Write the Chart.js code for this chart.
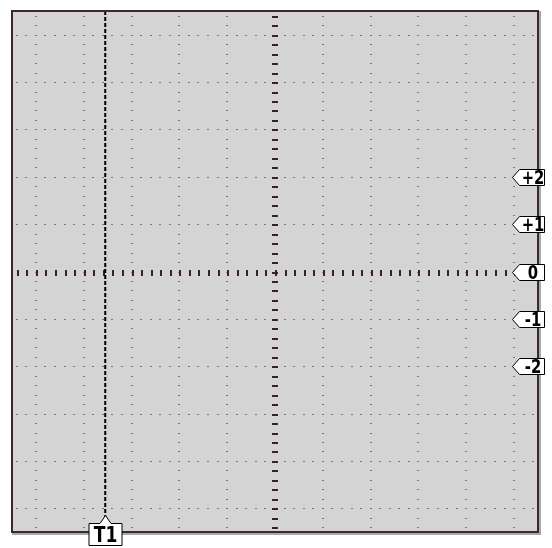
<!DOCTYPE html>
<html><head><meta charset="utf-8">
<script src="https://cdn.jsdelivr.net/npm/chart.js@4"></script>
<style>html,body{margin:0;padding:0;background:#fff;overflow:hidden}</style>
</head><body>
<canvas id="c" width="552" height="548"></canvas>
<script>
// graticule: 11 x 11 divisions, minor subdivision 0.2 div
const xRange = [-5.5, 5.5];
const yRange = [-5.5, 5.5];
const majorX = [-5, -4, -3, -2, -1, 0, 1, 2, 3, 4, 5];
const majorY = [-5, -4, -3, -2, -1, 0, 1, 2, 3, 4, 5];
const minorStep = 0.2;
// channel level markers on the right edge
const levelLabels = ['+2', '+1', '0', '-1', '-2'];
const levelValues = [2, 1, 0, -1, -2];
// time cursor
const cursorLabels = ['T1'];
const cursorValues = [-3.55];
const cursorSpan = [5.5, -5.2];

const minorVals = [];
for (let i = -27; i <= 27; i++) minorVals.push(i * minorStep);

const scopePlugin = {
  id: 'scope',
  beforeDatasetsDraw(chart) {
    const {ctx, chartArea: a, scales: {x, y}} = chart;
    ctx.save();
    ctx.fillStyle = '#d4d4d4';
    ctx.fillRect(a.left, a.top, a.right - a.left, a.bottom - a.top);
    // dotted graticule
    ctx.fillStyle = '#8a7676';
    majorX.forEach(v => {
      if (v === 0) return;
      const px = Math.round(x.getPixelForValue(v));
      minorVals.forEach(m => {
        const py = Math.round(y.getPixelForValue(m));
        ctx.fillRect(px - 1, py, 2, 1);
      });
    });
    majorY.forEach(v => {
      if (v === 0) return;
      const py = Math.round(y.getPixelForValue(v));
      minorVals.forEach(m => {
        const px = Math.round(x.getPixelForValue(m));
        ctx.fillRect(px - 1, py, 2, 1);
      });
    });
    // center axes with ticks
    ctx.fillStyle = '#3a2222';
    const cx = Math.round(x.getPixelForValue(0));
    const cy = Math.round(y.getPixelForValue(0));
    minorVals.forEach(m => {
      const py = Math.round(y.getPixelForValue(m));
      ctx.fillRect(cx - 3, py, 6, 2);
      const px = Math.round(x.getPixelForValue(m));
      ctx.fillRect(px, cy - 2, 2, 6);
    });
    ctx.restore();
  },
  afterDraw(chart) {
    const {ctx, chartArea: a, scales: {x, y}} = chart;
    ctx.save();
    // frame
    ctx.strokeStyle = '#a9a9a9';
    ctx.lineWidth = 2;
    ctx.beginPath();
    ctx.moveTo(a.right + 2, a.top);
    ctx.lineTo(a.right + 2, a.bottom + 2);
    ctx.lineTo(a.left, a.bottom + 2);
    ctx.stroke();
    ctx.strokeStyle = '#402828';
    ctx.strokeRect(a.left, a.top, a.right - a.left, a.bottom - a.top);

    ctx.lineWidth = 1;
    ctx.textAlign = 'center';
    ctx.textBaseline = 'middle';
    // level markers
    levelValues.forEach((v, i) => {
      const py = Math.round(y.getPixelForValue(v)) + 0.5;
      const tip = a.right - 25.5, bx = a.right - 18.5, br = a.right + 6.5;
      ctx.beginPath();
      ctx.moveTo(tip, py);
      ctx.lineTo(bx, py - 8);
      ctx.lineTo(br, py - 8);
      ctx.lineTo(br, py + 8);
      ctx.lineTo(bx, py + 8);
      ctx.closePath();
      ctx.fillStyle = '#fff';
      ctx.fill();
      ctx.strokeStyle = '#000';
      ctx.stroke();
      ctx.save();
      ctx.translate((bx + br) / 2 + 1, py + 1);
      ctx.scale(0.74, 1);
      ctx.fillStyle = '#000';
      ctx.font = 'bold 20px "DejaVu Sans"';
      ctx.fillText(levelLabels[i], 0, 0);
      ctx.restore();
    });
    // cursor labels
    cursorValues.forEach((v, i) => {
      const px = Math.round(x.getPixelForValue(v)) + 0.5;
      const top = a.bottom - 8.5, bot = a.bottom + 13.5;
      ctx.beginPath();
      ctx.moveTo(px - 16.5, top);
      ctx.lineTo(px - 5.5, top);
      ctx.lineTo(px, top - 8);
      ctx.lineTo(px + 5.5, top);
      ctx.lineTo(px + 16.5, top);
      ctx.lineTo(px + 16.5, bot);
      ctx.lineTo(px - 16.5, bot);
      ctx.closePath();
      ctx.fillStyle = '#fff';
      ctx.fill();
      ctx.strokeStyle = '#000';
      ctx.stroke();
      ctx.save();
      ctx.translate(px, (top + bot) / 2 + 1.5);
      ctx.scale(0.78, 1);
      ctx.fillStyle = '#000';
      ctx.font = 'bold 22px "DejaVu Sans"';
      ctx.fillText(cursorLabels[i], 0, 0);
      ctx.restore();
    });
    ctx.restore();
  }
};

new Chart(document.getElementById('c'), {
  type: 'scatter',
  data: {
    datasets: cursorValues.map((v, i) => ({
      label: cursorLabels[i],
      data: [{x: v, y: cursorSpan[0]}, {x: v, y: cursorSpan[1]}],
      showLine: true,
      borderColor: '#000',
      borderWidth: 2,
      borderDash: [4, 2],
      pointRadius: 0
    }))
  },
  options: {
    responsive: false,
    animation: false,
    layout: {padding: {left: 12, top: 11, right: 14, bottom: 16}},
    scales: {
      x: {type: 'linear', min: xRange[0], max: xRange[1], display: false},
      y: {type: 'linear', min: yRange[0], max: yRange[1], display: false}
    },
    plugins: {legend: {display: false}, tooltip: {enabled: false}}
  },
  plugins: [scopePlugin]
});
</script>
</body></html>
